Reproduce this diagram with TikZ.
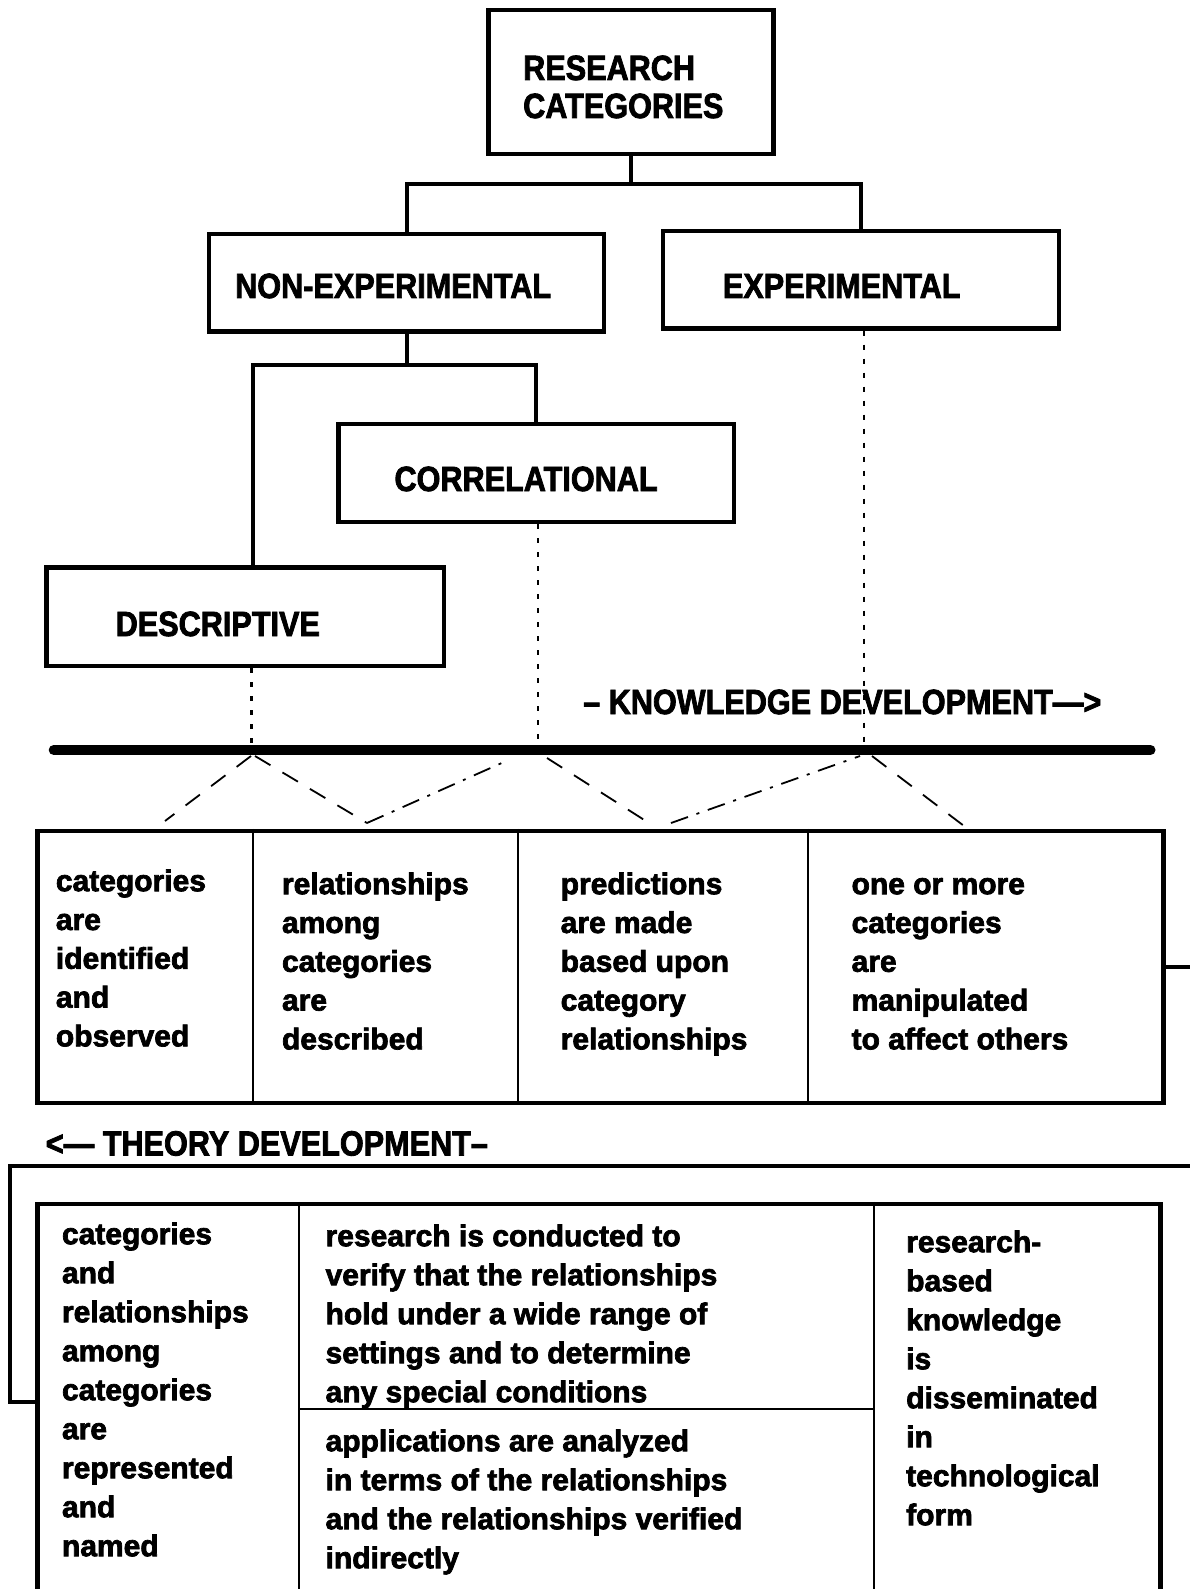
\documentclass[tikz,border=0pt]{standalone}
\usepackage{fontspec}
\setmainfont{Liberation Sans}[BoldFeatures={FakeBold=2.4}]
\usepackage{graphicx}
\newcommand{\hdtext}[1]{\scalebox{0.875}[1]{#1}}
\tikzset{
  boxline/.style={draw, line width=4.5pt, rectangle, inner sep=0pt},
  conn/.style={line width=4pt, line join=miter},
  divline/.style={line width=2pt},
  dotv/.style={line width=2.2pt, dash pattern=on 5pt off 9pt},
  dsh/.style={line width=1.8pt, dash pattern=on 18pt off 14pt},
  dshdot/.style={line width=1.8pt, dash pattern=on 18pt off 9pt on 3pt off 9pt},
  hdr/.style={anchor=base west, inner sep=0pt, font=\fontsize{35}{40}\selectfont\bfseries},
  bodyA/.style={anchor=north west, inner sep=0pt, align=left, font=\fontsize{30}{38.8}\selectfont\bfseries},
  bodyB/.style={anchor=north west, inner sep=0pt, align=left, font=\fontsize{30}{39}\selectfont\bfseries},
}
\begin{document}
\begin{tikzpicture}[x=1pt,y=-1pt]
\useasboundingbox[fill=white] (0,0) rectangle (1189,1589);

% boxes
\node[boxline, minimum width=284.8pt, minimum height=144pt] (rc) at (631,82) {};
\node[boxline, minimum width=395.3pt, minimum height=97.4pt] (ne) at (406.5,282.7) {};
\node[boxline, minimum width=396.3pt, minimum height=97.4pt] (ex) at (861,279.7) {};
\node[boxline, minimum width=395.3pt, minimum height=98.3pt] (co) at (536.2,472.9) {};
\node[boxline, minimum width=397.4pt, minimum height=98.4pt] (de) at (245.3,616.8) {};
\node[boxline, minimum width=1126.1pt, minimum height=271.8pt] (kb) at (600.55,966.9) {};
\node[boxline, minimum width=1123.1pt, minimum height=396pt] (bb) at (599.05,1402) {};

% header texts
\node[hdr] (t1) at (523,80) {\hdtext{RESEARCH}};
\node[hdr] (t2) at (523,118) {\hdtext{CATEGORIES}};
\node[hdr] (t3) at (235,298) {\hdtext{NON-EXPERIMENTAL}};
\node[hdr] (t4) at (722.7,298) {\hdtext{EXPERIMENTAL}};
\node[hdr] (t5) at (394.3,491) {\hdtext{CORRELATIONAL}};
\node[hdr] (t6) at (115.5,636) {\hdtext{DESCRIPTIVE}};
\node[hdr] (kd) at (583,714) {\hdtext{– KNOWLEDGE DEVELOPMENT—>}};
\node[hdr] (td) at (45.6,1155.5) {\hdtext{<— THEORY DEVELOPMENT–}};

% tree connectors
\coordinate (j1) at (631,184.5);
\draw[conn] (rc.south) -- (j1);
\draw[conn] (ne.north) |- (j1) -| (ex.north);
\coordinate (j2) at (406.5,365);
\coordinate (j3) at (253.4,365);
\draw[conn] (ne.south) -- (j2);
\draw[conn] (j3 |- de.north) -- (j3) -| (co.north);

% thick line
\coordinate (kl) at (53.7,750);
\coordinate (kr) at (1150.5,750);
\draw[line width=10pt, line cap=round] (kl) -- (kr);

% dotted verticals
\coordinate (k1) at (251.4,746);
\coordinate (k2) at (538.2,746);
\coordinate (k3) at (863.6,746);
\draw[dotv] (k1 |- de.south) -- (k1);
\draw[dotv] (k2 |- co.south) -- (k2);
\draw[dotv] (k3 |- ex.south) -- (k3);

% diagonal dashed lines
\coordinate (a1) at (251,756);
\coordinate (a2) at (165,821);
\coordinate (b1) at (255,756);
\coordinate (b2) at (367,823);
\coordinate (c2) at (504,762);
\coordinate (e1) at (547,758);
\coordinate (e2) at (649,823);
\coordinate (f1) at (671,823);
\coordinate (f2) at (860,756);
\coordinate (g1) at (872,756);
\coordinate (g2) at (968,829);
\draw[dsh] (a1) -- (a2);
\draw[dsh] (b1) -- (b2);
\draw[dshdot] (b2) -- (c2);
\draw[dsh] (e1) -- (e2);
\draw[dshdot] (f1) -- (f2);
\draw[dsh] (g1) -- (g2);

% dividers of knowledge box
\foreach \xx in {253.4,518,807.8}{
  \draw[divline] (kb.north -| \xx,0) -- (kb.south -| \xx,0);
}
% dividers of bottom box
\draw[divline] (bb.north -| 299,0) -- (bb.south -| 299,0);
\draw[divline] (bb.north -| 873.7,0) -- (bb.south -| 873.7,0);
\coordinate (m1) at (299,1409);
\coordinate (m2) at (873.7,1409);
\draw[divline] (m1) -- (m2);

% loop connector
\draw[conn] (kb.east) -- (1200,966.9) -- (1200,1165.6) -- (10,1165.6) -- (10,1402) -- (bb.west);

% body texts
\node[bodyA] (c1) at (55.7,863.8) {\strut categories\\are\\identified\\and\\observed};
\node[bodyA] (c2) at (281.8,866.8) {\strut relationships\\among\\categories\\are\\described};
\node[bodyA] (c3) at (560.5,866.8) {\strut predictions\\are made\\based upon\\category\\relationships};
\node[bodyA] (c4) at (851.4,866.8) {\strut one or more\\categories\\are\\manipulated\\to affect others};

\node[bodyB] (d1) at (61.8,1216.7) {\strut categories\\and\\relationships\\among\\categories\\are\\represented\\and\\named};
\node[bodyB] (d2) at (325.4,1218.7) {\strut research is conducted to\\verify that the relationships\\hold under a wide range of\\settings and to determine\\any special conditions};
\node[bodyB] (d3) at (325.4,1423.7) {\strut applications are analyzed\\in terms of the relationships\\and the relationships verified\\indirectly};
\node[bodyB] (d4) at (906,1224.7) {\strut research-\\based\\knowledge\\is\\disseminated\\in\\technological\\form};
\end{tikzpicture}
\end{document}
